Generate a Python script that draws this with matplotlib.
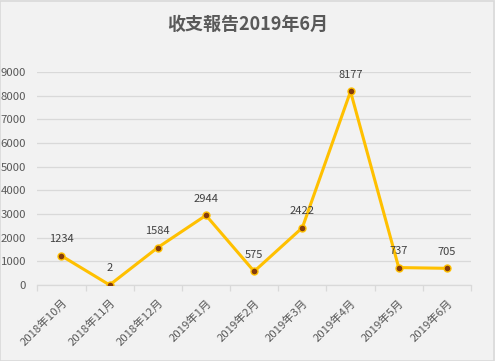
import numpy as np
import matplotlib
matplotlib.use('Agg')
import matplotlib.pyplot as plt
from matplotlib.patches import Rectangle

plt.rcParams['font.family'] = ['Noto Sans CJK SC', 'DejaVu Sans']

months = ['2018年10月', '2018年11月', '2018年12月', '2019年1月', '2019年2月',
          '2019年3月', '2019年4月', '2019年5月', '2019年6月']
values = [1234, 2, 1584, 2944, 575, 2422, 8177, 737, 705]
yticks = [0, 1000, 2000, 3000, 4000, 5000, 6000, 7000, 8000, 9000]

bg = '#F2F2F2'
grid = '#D9D9D9'
text_col = '#595959'

fig = plt.figure(figsize=(4.95, 3.61), dpi=100, facecolor=bg)
ax = fig.add_axes([0.0754, 0.2105, 0.8761, 0.5901])
ax.set_facecolor(bg)

x = np.arange(len(months))
ax.plot(x, values, color='#FFC000', lw=2.2, zorder=3)
ax.plot(x, values, 'o', ms=5, mfc='#843C0C', mec='#FFC000', mew=1.0, zorder=4)

for xi, v in zip(x, values):
    ax.annotate(str(v), (xi, v), xytext=(0, 8.5), textcoords='offset points',
                ha='center', va='bottom', fontsize=8, color='#404040')

ax.set_xlim(-0.5, len(months) - 0.5)
ax.set_ylim(0, 9000)
ax.set_yticks(yticks)
ax.set_yticklabels([str(t) for t in yticks], fontsize=8.2, color=text_col)
ax.yaxis.grid(True, color=grid, lw=0.9)
ax.set_axisbelow(True)

ax.set_xticks(x)
ax.set_xticklabels(months, rotation=45, ha='right', rotation_mode='anchor',
                   fontsize=8.2, color=text_col)
ax.set_xticks(np.arange(-0.5, len(months)), minor=True)
ax.tick_params(axis='x', which='major', length=0, pad=9)
ax.tick_params(axis='x', which='minor', length=4, color=grid, width=0.9)
ax.tick_params(axis='y', length=0, pad=8)

for s in ['left', 'right', 'top']:
    ax.spines[s].set_visible(False)
ax.spines['bottom'].set_color(grid)
ax.spines['bottom'].set_linewidth(0.9)

fig.text(0.5, 0.933, '收支報告2019年6月', ha='center', va='center',
         fontsize=13, fontweight='bold', color=text_col)

fig.patches.append(Rectangle((0.001, 0.001), 0.997, 0.996, transform=fig.transFigure,
                             fill=False, edgecolor=grid, lw=1.2))

fig.savefig('out.png', dpi=100, facecolor=bg)
